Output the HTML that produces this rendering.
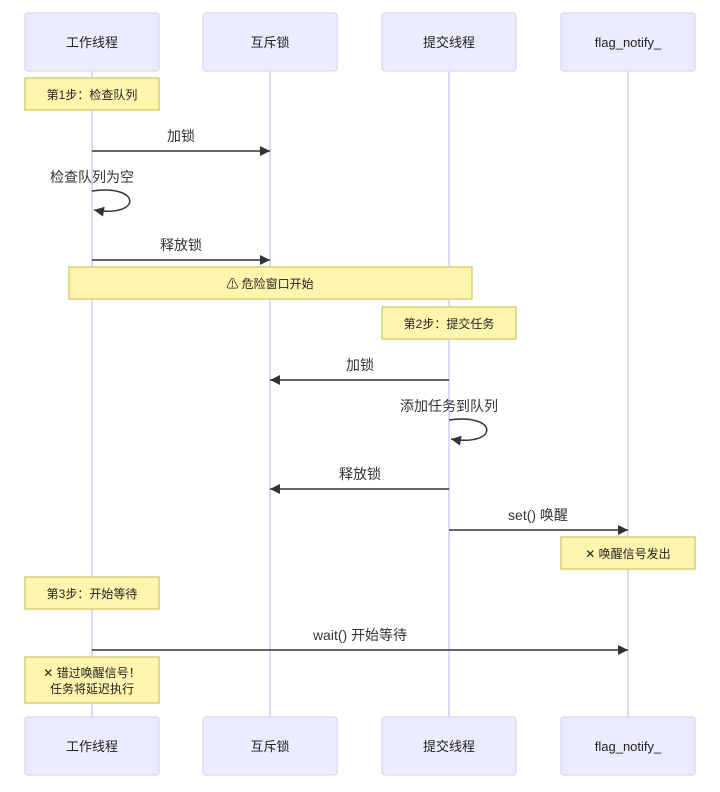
<!DOCTYPE html>
<html><head><meta charset="utf-8"><style>
html,body{margin:0;padding:0;background:#fff;}
svg{display:block;font-family:"Liberation Sans","Noto Sans CJK SC",sans-serif;}
.actor{fill:#ECECFF;stroke:#ddd6f3;stroke-width:1.3;}
.ll{stroke:#d8ccf4;stroke-width:1.5;}
.note{fill:#fff5ad;stroke:#cccc66;stroke-width:1.3;}
.at{font-size:13px;fill:#222;text-anchor:middle;}
.nt{font-size:12px;fill:#222;text-anchor:middle;}
.mt{font-size:14px;fill:#333;text-anchor:middle;}
.msg{stroke:#333;stroke-width:1.5;fill:none;}
</style></head><body>
<svg width="720" height="792" viewBox="0 0 720 792">
<defs><marker id="a" markerWidth="12" markerHeight="12" refX="10" refY="5" orient="auto" markerUnits="userSpaceOnUse"><path d="M0,0 L10,5 L0,10 z" fill="#333"/></marker></defs>
<line class="ll" x1="92" y1="71" x2="92" y2="717"/>
<line class="ll" x1="270" y1="71" x2="270" y2="717"/>
<line class="ll" x1="449" y1="71" x2="449" y2="717"/>
<line class="ll" x1="628" y1="71" x2="628" y2="717"/>
<g>
<rect class="actor" x="25" y="13" width="134" height="58" rx="3"/><text class="at" x="92" y="47">工作线程</text>
<rect class="actor" x="203" y="13" width="134" height="58" rx="3"/><text class="at" x="270" y="47">互斥锁</text>
<rect class="actor" x="382" y="13" width="134" height="58" rx="3"/><text class="at" x="449" y="47">提交线程</text>
<rect class="actor" x="561" y="13" width="134" height="58" rx="3"/><text class="at" x="628" y="47">flag_notify_</text>
<rect class="actor" x="25" y="717" width="134" height="58" rx="3"/><text class="at" x="92" y="751">工作线程</text>
<rect class="actor" x="203" y="717" width="134" height="58" rx="3"/><text class="at" x="270" y="751">互斥锁</text>
<rect class="actor" x="382" y="717" width="134" height="58" rx="3"/><text class="at" x="449" y="751">提交线程</text>
<rect class="actor" x="561" y="717" width="134" height="58" rx="3"/><text class="at" x="628" y="751">flag_notify_</text>
</g>
<rect class="note" x="25" y="78" width="134" height="32"/><text class="nt" x="92" y="99">第1步：检查队列</text>
<text class="mt" x="181" y="141">加锁</text>
<line class="msg" x1="92" y1="151" x2="270" y2="151" marker-end="url(#a)"/>
<text class="mt" x="92" y="182">检查队列为空</text>
<path class="msg" d="M92,191 C142,184 142,218 94,210" marker-end="url(#a)"/>
<text class="mt" x="181" y="250">释放锁</text>
<line class="msg" x1="92" y1="260" x2="270" y2="260" marker-end="url(#a)"/>
<rect class="note" x="69" y="267" width="403" height="32"/><text class="nt" x="270" y="288">⚠ 危险窗口开始</text>
<rect class="note" x="382" y="307" width="134" height="32"/><text class="nt" x="449" y="328">第2步：提交任务</text>
<text class="mt" x="360" y="370">加锁</text>
<line class="msg" x1="449" y1="380" x2="270" y2="380" marker-end="url(#a)"/>
<text class="mt" x="449" y="411">添加任务到队列</text>
<path class="msg" d="M449,420 C499,413 499,447 451,439" marker-end="url(#a)"/>
<text class="mt" x="360" y="479">释放锁</text>
<line class="msg" x1="449" y1="489" x2="270" y2="489" marker-end="url(#a)"/>
<text class="mt" x="538" y="520">set() 唤醒</text>
<line class="msg" x1="449" y1="530" x2="628" y2="530" marker-end="url(#a)"/>
<rect class="note" x="561" y="537" width="134" height="32"/><text class="nt" x="628" y="558">✕ 唤醒信号发出</text>
<rect class="note" x="25" y="577" width="134" height="32"/><text class="nt" x="92" y="598">第3步：开始等待</text>
<text class="mt" x="360" y="640">wait() 开始等待</text>
<line class="msg" x1="92" y1="650" x2="628" y2="650" marker-end="url(#a)"/>
<rect class="note" x="25" y="657" width="134" height="46"/>
<text class="nt" x="92" y="677">✕ 错过唤醒信号！</text>
<text class="nt" x="92" y="693">任务将延迟执行</text>
</svg>
</body></html>
